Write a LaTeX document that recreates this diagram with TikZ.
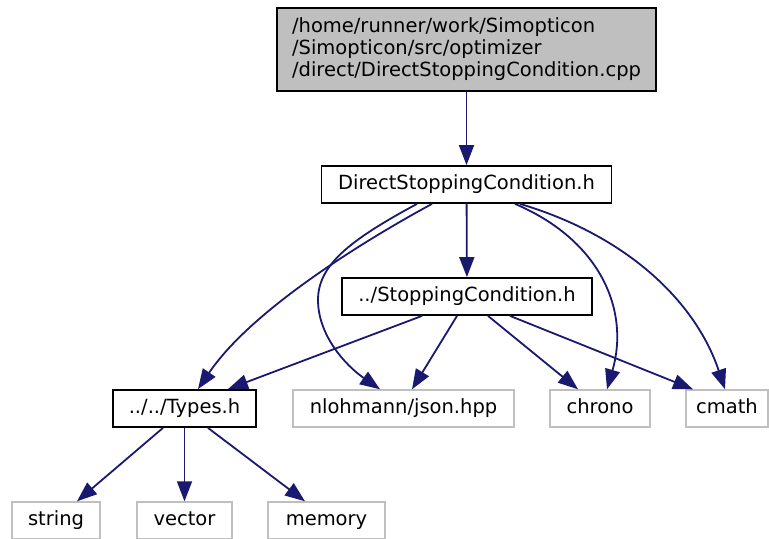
\documentclass[tikz,border=0pt]{standalone}
\usepackage{fontspec}
\setmainfont{DejaVu Sans}
\usepackage{xcolor}
\usepackage{tikz}
\usetikzlibrary{arrows.meta, positioning, calc}

\definecolor{edgeblue}{HTML}{191970}
\definecolor{boxgray}{HTML}{BFBFBF}

\begin{document}
\begin{tikzpicture}[
      x=0.5pt, y=-0.5pt,
      every node/.style={font=\fontsize{9.75}{11}\selectfont, inner sep=0pt, minimum height=18.5pt},
      srcfile/.style={draw=black, line width=0.9pt, fill=boxgray, align=left},
      file/.style={draw=black, line width=0.9pt, text height=7.4pt, text depth=2pt},
      sysfile/.style={draw=boxgray, line width=0.7pt, text height=7.4pt, text depth=2pt},
      dep/.style={draw=edgeblue, line width=0.9pt, -{Triangle[length=10pt,width=7.5pt]}}
    ]
      \useasboundingbox (0,0) rectangle (769,539);

      % files of the project
      \node[srcfile, minimum width=189.5pt, minimum height=41.5pt] (cpp) at (466.5,49.5)
        {/home/runner/work/Simopticon\\/Simopticon/src/optimizer\\/direct/DirectStoppingCondition.cpp};
      \node[file, minimum width=145pt] (dsc) at (466.5,184.5) {DirectStoppingCondition.h};
      \node[file, minimum width=125pt] (stop) at (467,296.5) {../StoppingCondition.h};
      \node[file, minimum width=71.5pt] (types) at (184.5,408.5) {../../Types.h};

      % system headers
      \node[sysfile, minimum width=110.5pt] (json) at (403.5,408.5) {nlohmann/json.hpp};
      \node[sysfile, minimum width=50pt] (chrono) at (600,408.5) {chrono};
      \node[sysfile, minimum width=41pt] (cmath) at (727,408.5) {cmath};
      \node[sysfile, minimum width=44pt] (string) at (56,520.5) {string};
      \node[sysfile, minimum width=47.5pt] (vector) at (184.5,520.5) {vector};
      \node[sysfile, minimum width=58.5pt] (memory) at (326.5,520.5) {memory};

      \draw[dep] (cpp) -- (dsc);
      \draw[dep] (dsc) -- (stop);
      \draw[dep] ([xshift=-17.25pt]dsc.south) .. controls (380,232) and (255,305) .. ([xshift=6.75pt]types.north);
      \draw[dep] ([xshift=-24.75pt]dsc.south) .. controls (350,240) and (318,265) .. (318,300)
        .. controls (318,335) and (345,365) .. ([xshift=-11.75pt]json.north);
      \draw[dep] ([xshift=24.25pt]dsc.south) .. controls (600,240) and (630,310) .. ([xshift=3.5pt]chrono.north);
      \draw[dep] ([xshift=26.75pt]dsc.south) .. controls (625,235) and (695,300) .. ([xshift=-1pt]cmath.north);

      \draw[dep] ([xshift=-22.5pt]stop.south) -- ([xshift=21.75pt]types.north);
      \draw[dep] ([xshift=-5pt]stop.south) -- ([xshift=4.25pt]json.north);
      \draw[dep] ([xshift=10.5pt]stop.south) -- ([xshift=-11pt]chrono.north);
      \draw[dep] ([xshift=21.5pt]stop.south) -- ([xshift=-17pt]cmath.north);

      \draw[dep] ([xshift=-10.75pt]types.south) -- ([xshift=10.5pt]string.north);
      \draw[dep] (types) -- (vector);
      \draw[dep] ([xshift=11.75pt]types.south) -- ([xshift=-10.75pt]memory.north);
    \end{tikzpicture}
\end{document}
